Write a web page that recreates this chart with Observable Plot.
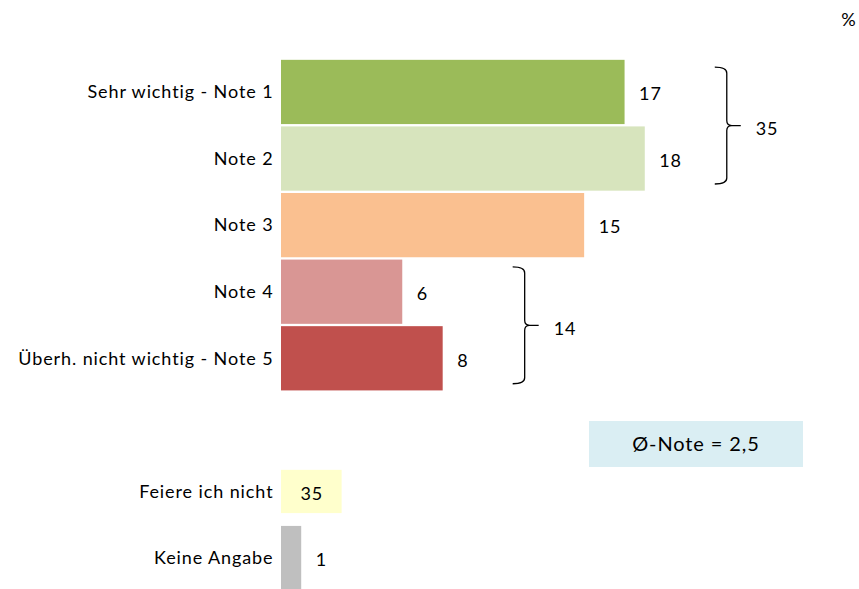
<!DOCTYPE html>
<html>
<head>
<meta charset="utf-8">
<script src="https://cdn.jsdelivr.net/npm/d3@7"></script>
<script src="https://cdn.jsdelivr.net/npm/@observablehq/plot@0.6"></script>
<style>
  html, body { margin: 0; padding: 0; background: #fff; }
  #chart { width: 859px; height: 589px; overflow: hidden; }
  #chart text { letter-spacing: 0.9px; }
</style>
</head>
<body>
<div id="chart"></div>
<script>
// ---- data ----
const categories = ["Sehr wichtig - Note 1", "Note 2", "Note 3", "Note 4", "Überh. nicht wichtig - Note 5", "Feiere ich nicht", "Keine Angabe"];
const values = [17, 18, 15, 6, 8, 35, 1];
const colors = ["#9bbb59", "#d7e4bd", "#fac090", "#d99694", "#c0504d", "#ffffcc", "#bfbfbf"];
const groupFrom = ["Sehr wichtig - Note 1", "Note 4"];
const groupTo = ["Note 2", "Überh. nicht wichtig - Note 5"];
const groupTotals = [35, 14];
const meanLabel = "Ø-Note = 2,5";
const unitLabel = "%";

// ---- build table ----
const rows = categories.map((c, i) => ({cat: c, value: values[i], color: colors[i]}));
const spacer = " ";
const yDomain = [...categories.slice(0, 5), spacer, ...categories.slice(5)];
const boxed = "Feiere ich nicht";
const boxWidth = 3; // display width (data units) of the boxed value
const mainRows = rows.filter(d => d.cat !== boxed);
const boxRows = rows.filter(d => d.cat === boxed);
const groups = groupFrom.map((f, i) => ({from: f, to: groupTo[i], total: groupTotals[i]}));

const font = "Lato, 'Open Sans', sans-serif";

function annotations(index, scales, channels, dimensions) {
  const x = scales.x, y = scales.y;
  const bw = y.bandwidth ? y.bandwidth() : (y(yDomain[1]) - y(yDomain[0]));
  const g = d3.create("svg:g").attr("font-family", font);
  const valueOf = c => values[categories.indexOf(c)];
  for (const grp of groups) {
    const y0 = y(grp.from) + 0.12 * bw;
    const y1 = y(grp.to) + bw - 0.11 * bw;
    const mid = (y0 + y1) / 2;
    const xb = x(Math.max(valueOf(grp.from), valueOf(grp.to))) + 82;
    const p = `M${xb - 12},${y0} Q${xb},${y0} ${xb},${y0 + 6} L${xb},${mid - 5} Q${xb},${mid} ${xb + 5},${mid} L${xb + 14},${mid} M${xb + 5},${mid} Q${xb},${mid} ${xb},${mid + 5} L${xb},${y1 - 6} Q${xb},${y1} ${xb - 12},${y1}`;
    g.append("path").attr("d", p).attr("fill", "none").attr("stroke", "#000").attr("stroke-width", 1.3);
    g.append("text").attr("x", xb + 29).attr("y", mid + 3).attr("dy", "0.35em").attr("text-anchor", "start")
      .attr("font-size", 18).attr("fill", "#000").text(grp.total);
  }
  // mean box
  const bx = dimensions.width - 270, by = 421;
  g.append("rect").attr("x", bx).attr("y", by).attr("width", 214).attr("height", 46).attr("fill", "#daeef3");
  g.append("text").attr("x", bx + 107).attr("y", by + 23).attr("dy", "0.35em").attr("text-anchor", "middle")
    .attr("font-size", 20).attr("fill", "#000").text(meanLabel);
  // unit
  g.append("text").attr("x", dimensions.width - 10).attr("y", 20).attr("dy", "0.35em").attr("text-anchor", "middle")
    .attr("font-size", 18).attr("fill", "#000").text(unitLabel);
  return g.node();
}

const chart = Plot.plot({
  width: 859,
  height: 589,
  marginLeft: 281,
  marginRight: 0,
  marginTop: 58,
  marginBottom: -3,
  style: {fontFamily: font, fontSize: "18px", color: "#000", background: "#fff", overflow: "hidden"},
  x: {domain: [0, 28.6], axis: null},
  y: {domain: yDomain, padding: 0.02, round: false, label: null},
  marks: [
    Plot.axisY({tickSize: 0, tickPadding: 8, fontSize: 18, label: null}),
    Plot.barX(mainRows, {y: "cat", x: "value", fill: "color", insetTop: 0.5, insetBottom: 0.5}),
    Plot.text(mainRows, {y: "cat", x: "value", text: d => String(d.value), textAnchor: "start", dx: 14, dy: 2, fill: "#000", fontSize: 18}),
    Plot.barX(boxRows, {y: "cat", x1: 0, x2: boxWidth, fill: "color", insetTop: 11, insetBottom: 11}),
    Plot.text(boxRows, {y: "cat", x: boxWidth / 2, text: d => String(d.value), textAnchor: "middle", dy: 2, fill: "#000", fontSize: 18}),
    annotations
  ]
});
document.getElementById("chart").appendChild(chart);
</script>
</body>
</html>
